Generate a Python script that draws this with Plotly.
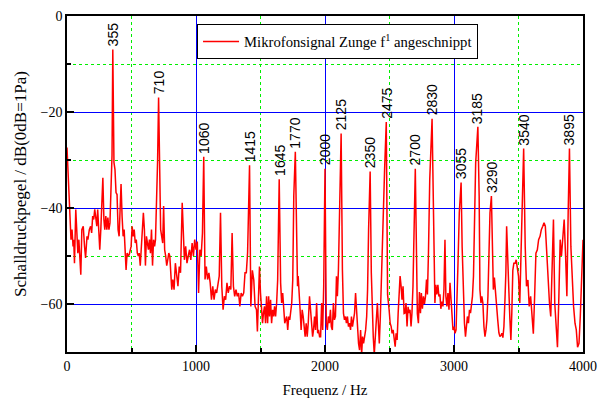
import plotly.graph_objects as go

freq = [0, 10, 18, 26, 31, 39, 47, 52, 58, 68, 76, 84, 92, 100, 107, 115, 126, 136, 144, 155,
        162, 173, 183, 191, 199, 207, 215, 223, 231, 238, 246, 254, 262, 270, 278, 286, 293, 301, 309, 317,
        325, 333, 341, 349, 355, 364, 372, 380, 388, 396, 404, 411, 419, 427, 435, 443, 450, 458, 466, 474,
        482, 490, 497, 505, 513, 521, 529, 537, 545, 553, 560, 568, 576, 584, 592, 600, 608, 616, 623, 631,
        639, 647, 655, 663, 671, 679, 686, 694, 702, 710, 718, 726, 734, 742, 749, 757, 765, 773, 781, 789,
        797, 805, 812, 820, 830, 840, 850, 860, 870, 880, 893, 902, 910, 920, 930, 940, 950, 960, 970, 980,
        990, 1000, 1010, 1020, 1030, 1040, 1050, 1060, 1070, 1080, 1090, 1100, 1110, 1120, 1130, 1140, 1150, 1160, 1170, 1180,
        1190, 1200, 1210, 1220, 1230, 1240, 1250, 1260, 1270, 1280, 1290, 1300, 1310, 1320, 1330, 1340, 1350, 1360, 1370, 1380,
        1390, 1400, 1415, 1425, 1437, 1448, 1458, 1469, 1476, 1487, 1492, 1500, 1508, 1516, 1523, 1531, 1539, 1547, 1555, 1563,
        1570, 1578, 1586, 1594, 1602, 1609, 1617, 1625, 1633, 1640, 1645, 1656, 1664, 1672, 1680, 1688, 1695, 1703, 1711, 1719,
        1727, 1734, 1742, 1750, 1758, 1770, 1779, 1787, 1792, 1800, 1807, 1815, 1823, 1831, 1839, 1846, 1854, 1862, 1870, 1880,
        1888, 1896, 1904, 1911, 1919, 1927, 1935, 1943, 1950, 1958, 1966, 1974, 1982, 1990, 2000, 2010, 2018, 2026, 2034, 2042,
        2049, 2057, 2065, 2073, 2081, 2089, 2096, 2104, 2112, 2125, 2135, 2143, 2151, 2159, 2166, 2174, 2182, 2190, 2198, 2205,
        2213, 2221, 2229, 2237, 2245, 2252, 2260, 2268, 2276, 2284, 2291, 2299, 2307, 2315, 2323, 2330, 2338, 2350, 2359, 2367,
        2374, 2382, 2390, 2398, 2406, 2414, 2421, 2429, 2437, 2445, 2453, 2462, 2475, 2485, 2497, 2505, 2513, 2520, 2528, 2536,
        2544, 2551, 2559, 2567, 2574, 2582, 2590, 2597, 2605, 2613, 2620, 2628, 2636, 2644, 2651, 2659, 2667, 2674, 2682, 2689,
        2700, 2708, 2716, 2724, 2732, 2740, 2747, 2755, 2763, 2771, 2779, 2787, 2794, 2802, 2812, 2830, 2838, 2846, 2852, 2859,
        2867, 2875, 2883, 2891, 2898, 2906, 2914, 2922, 2930, 2937, 2945, 2953, 2961, 2969, 2977, 2984, 2992, 3000, 3008, 3016,
        3024, 3031, 3041, 3055, 3063, 3073, 3081, 3089, 3096, 3104, 3112, 3120, 3128, 3135, 3143, 3151, 3159, 3168, 3185, 3195,
        3201, 3209, 3216, 3224, 3232, 3240, 3248, 3255, 3263, 3271, 3279, 3290, 3298, 3305, 3313, 3321, 3330, 3339, 3348, 3356,
        3365, 3371, 3379, 3387, 3395, 3402, 3408, 3418, 3426, 3433, 3441, 3448, 3456, 3464, 3474, 3482, 3490, 3500, 3510, 3521,
        3532, 3540, 3552, 3562, 3573, 3583, 3594, 3604, 3615, 3625, 3635, 3646, 3656, 3667, 3677, 3688, 3698, 3708, 3719, 3729,
        3740, 3750, 3760, 3771, 3781, 3792, 3802, 3813, 3823, 3833, 3844, 3854, 3865, 3875, 3885, 3895, 3906, 3917, 3927, 3938,
        3948, 3958, 3969, 3979, 3990, 4000]

level = [-27.4, -35, -39.6, -44.5, -46.6, -44.5, -48, -46.6, -51.5, -40.3, -44.5, -49.4, -46.6, -52.9, -53.9, -44.5, -43.8, -48, -50.4, -45.9,
         -46.6, -44.5, -43.8, -45.2, -41.7, -42.4, -40.3, -42, -43.8, -40.3, -44.5, -48.7, -44.5, -40.3, -33.7, -42.4, -44.5, -41.7, -44.5, -42,
         -44.5, -43.1, -37.5, -29, -7, -30.5, -32, -36.8, -37.2, -44.5, -45.9, -39.6, -35, -41.7, -45.9, -44.5, -48, -52.9, -49.4, -50,
         -49.7, -48.7, -48, -43.8, -45.9, -44.5, -47.3, -46.6, -49.4, -50, -49.4, -52, -48.7, -46.6, -41, -44.5, -52, -45.9, -48, -48.7,
         -46.6, -49.4, -44.5, -52, -46.6, -48, -46.6, -39.6, -30.5, -17, -32.6, -44.5, -45.9, -47.3, -39.6, -48.7, -50, -52, -50.8, -49.4,
         -50, -52.9, -57, -54.9, -57, -51.5, -54.2, -56.3, -52.2, -53.5, -38.9, -48, -50.8, -48, -51.5, -50, -48.7, -50.8, -47.3, -50,
         -46.6, -48.7, -47, -57.7, -48.7, -50, -45.2, -29.3, -54.9, -52.2, -54.9, -53.5, -55.6, -59.1, -56.3, -59.1, -57, -57.7, -56.3, -54.2,
         -41, -56.3, -61.2, -58.4, -59.1, -55.6, -57.7, -56.3, -57, -45.2, -56.3, -58.4, -57, -58.4, -57.7, -60.5, -57.7, -58.4, -57.7, -53.5,
         -53.5, -49.3, -31.1, -60.5, -53, -55, -60.5, -61.2, -65.7, -58.4, -52.2, -57.7, -60.5, -64, -61.9, -60.5, -64, -58.4, -64, -58.4,
         -62.6, -59.1, -64, -61.2, -62.6, -60.5, -62.6, -59.8, -55, -45, -34, -55.6, -59.8, -57.7, -62.6, -64, -63.3, -62.6, -65.4, -62.6,
         -63.3, -61.9, -59.8, -55, -37.5, -28.3, -40.3, -56.3, -54.2, -59.8, -61.2, -65.4, -61.2, -62.6, -64.7, -66.8, -64, -66.8, -64, -58.4,
         -61.2, -64.7, -66.8, -65.4, -62.6, -65.4, -59.8, -66.1, -65.4, -66.8, -66.8, -59.8, -65.4, -56.3, -31.8, -64, -65.4, -62.6, -64, -61.2,
         -64.7, -65.4, -59.8, -63.3, -62.6, -54.2, -58.4, -52.9, -41, -24.5, -52.9, -61.9, -63.3, -62.6, -64, -62.6, -64.7, -64, -65.4, -62.6,
         -64.7, -62.6, -61.9, -57.7, -62.6, -65.4, -68.2, -69.6, -65.4, -70.5, -66.8, -68.2, -66.8, -65.4, -62.6, -57, -44.5, -32.4, -53.5, -62.6,
         -66.8, -70.5, -65.4, -63.3, -59.8, -66.1, -68.2, -62.6, -54.2, -48, -41, -32, -22.1, -58, -61.2, -64, -64.7, -66.1, -65.4, -67.5,
         -68.9, -66.1, -67.5, -62, -57, -54.2, -56.3, -59.1, -56.3, -62, -61.9, -59.8, -64.7, -60.6, -61.9, -61.2, -64.7, -61.9, -56.3, -43,
         -31.8, -47, -62, -64, -57.5, -61.9, -57.7, -61, -58.4, -60, -58.4, -54.9, -58, -49.4, -34, -21.4, -40, -56, -59.8, -56,
         -58, -56, -58.4, -58, -61, -59.5, -60.5, -57, -46.6, -58.4, -60.5, -57.7, -61.2, -55.6, -59.8, -64, -65.4, -64.7, -66.1, -65.4,
         -59.8, -51.5, -41, -34.7, -48, -59.8, -64, -66.8, -64, -62.6, -64, -61.2, -61.9, -59.8, -58.4, -54.2, -44.5, -30.6, -23.1, -37.5,
         -57, -59.8, -58.4, -59.8, -64.7, -66.8, -65.4, -63.3, -58.4, -50, -41, -37.5, -50, -57, -54.5, -57.5, -61.5, -63.3, -66, -66.8,
         -66.5, -66.1, -67, -64.7, -59.1, -53.5, -43.8, -50, -57.7, -63, -67.5, -62, -53, -51.5, -51.5, -50.8, -52.5, -54.2, -59.8, -48,
         -32, -27.6, -48, -56.3, -55, -60.5, -58.4, -61.9, -66.2, -58.4, -49.4, -48.7, -46.6, -45.9, -44.5, -43.8, -43.1, -43.8, -50, -55.6,
         -59.8, -62.6, -51.5, -42.4, -59.8, -65.4, -69, -58.4, -46.6, -50, -44.5, -42.4, -50, -58.4, -41, -27.6, -48, -57, -60.5, -64,
         -65.4, -69, -68.2, -62.6, -52.9, -46.6]

peak_freqs = [355, 710, 1060, 1415, 1645, 1770, 2000, 2125, 2350, 2475, 2700, 2830,
              3055, 3185, 3290, 3540, 3895]
peak_labels = [str(f) for f in peak_freqs]

series_name = "Mikrofonsignal Zunge f<sup>1</sup> angeschnippt"
x_title = "Frequenz / Hz"
y_title = "Schalldruckpegel / dB(0dB=1Pa)"

serif = "Liberation Serif, Times New Roman, serif"
sans = "Liberation Sans, Arial, sans-serif"

fig = go.Figure()
fig.add_trace(go.Scatter(x=freq, y=level, mode="lines", name=series_name,
                         line=dict(color="#ff0000", width=1.5), showlegend=True))

lookup = dict(zip(freq, level))
for f, lab in zip(peak_freqs, peak_labels):
    fig.add_annotation(x=f, y=lookup[f], text=lab, showarrow=False, textangle=-90,
                       xanchor="center", yanchor="bottom", yshift=1,
                       font=dict(family=sans, size=14, color="black"))

fig.update_layout(
    width=607, height=401,
    margin=dict(l=67, r=24, t=16, b=49),
    paper_bgcolor="white", plot_bgcolor="white",
    showlegend=True,
    legend=dict(x=0.252, y=0.975, xanchor="left", yanchor="top",
                bgcolor="white", bordercolor="black", borderwidth=1,
                font=dict(family=serif, size=14.7, color="black"),
                itemwidth=36),
    font=dict(family=serif, size=14, color="black"),
)
fig.update_xaxes(range=[0, 4000], tickmode="linear", tick0=0, dtick=1000,
                 automargin=False,
                 showgrid=True, gridcolor="#0000ff", gridwidth=1,
                 showline=True, linecolor="black", linewidth=1.5, mirror=True,
                 ticks="inside", ticklen=7, tickcolor="black", tickwidth=1.5,
                 zeroline=False,
                 minor=dict(dtick=500, showgrid=True, gridcolor="#00ee00", griddash="dot",
                            gridwidth=1, ticks="inside", ticklen=4, tickcolor="black"),
                 title=dict(text=x_title, font=dict(family=serif, size=15), standoff=12),
                 tickfont=dict(family=serif, size=14))
fig.update_yaxes(range=[-70, 0], tickmode="linear", tick0=0, dtick=20,
                 automargin=False,
                 showgrid=True, gridcolor="#0000ff", gridwidth=1,
                 showline=True, linecolor="black", linewidth=1.5, mirror=True,
                 ticks="inside", ticklen=7, tickcolor="black", tickwidth=1.5,
                 zeroline=False,
                 minor=dict(dtick=10, showgrid=True, gridcolor="#00ee00", griddash="dot",
                            gridwidth=1, ticks="inside", ticklen=4, tickcolor="black"),
                 title=dict(text=y_title, font=dict(family=serif, size=17), standoff=10),
                 tickfont=dict(family=serif, size=14))

fig.write_html("out.html", config={"displayModeBar": False},
               post_script="document.body.style.margin='0';")
